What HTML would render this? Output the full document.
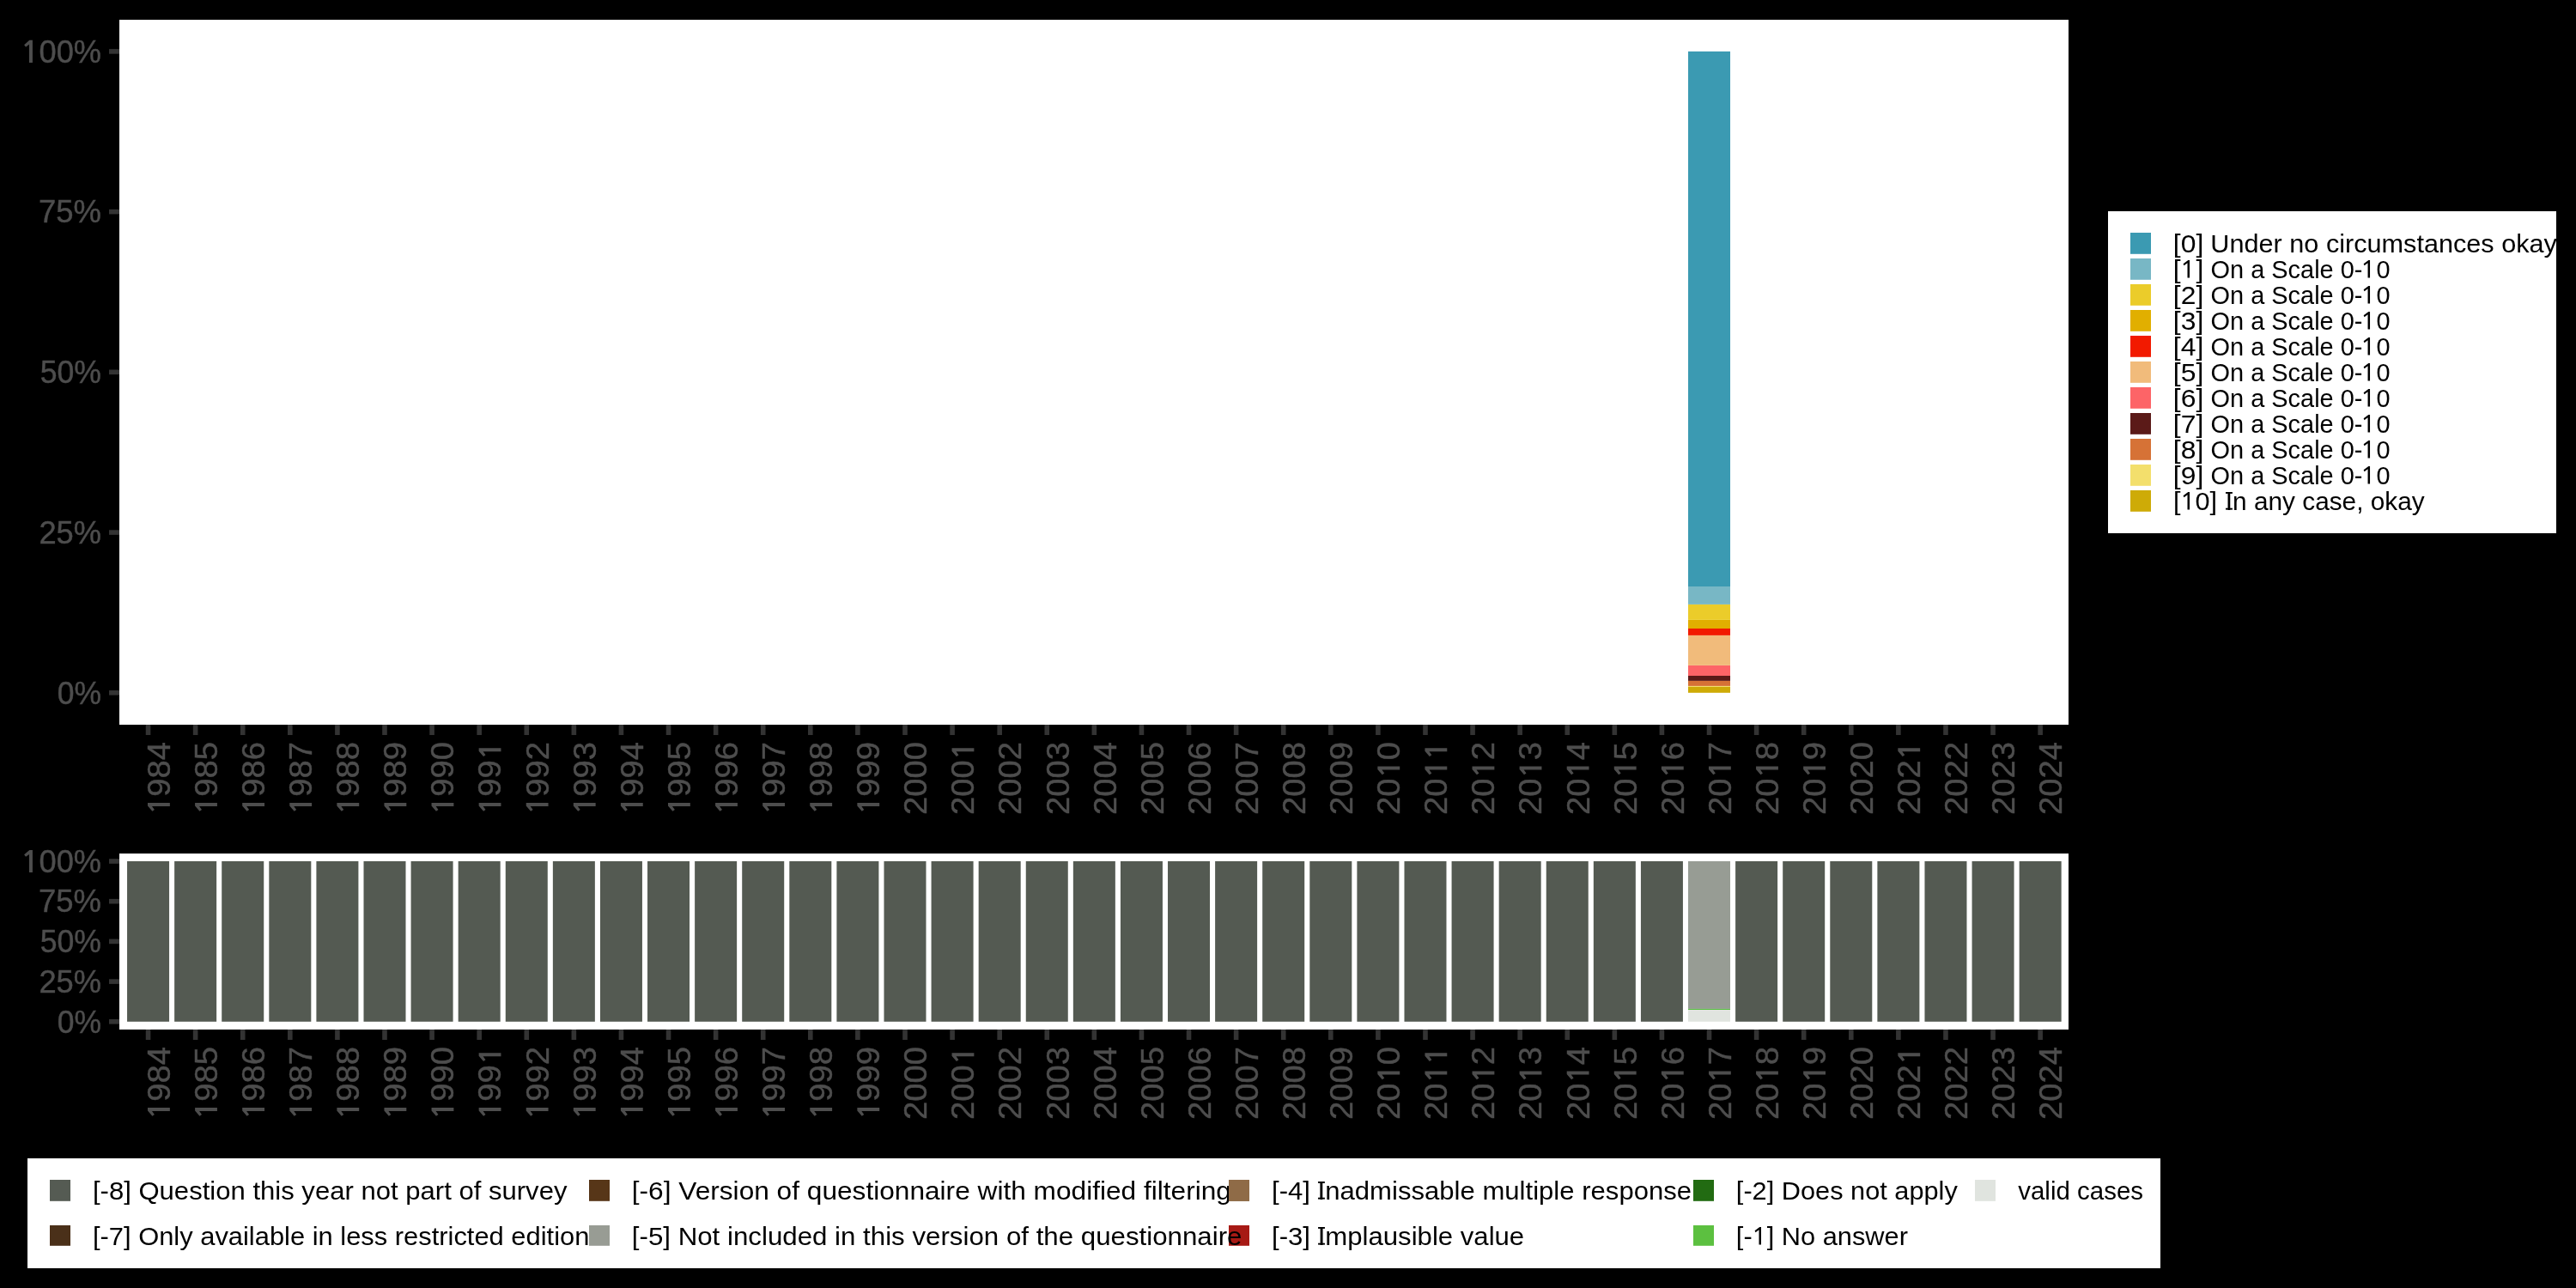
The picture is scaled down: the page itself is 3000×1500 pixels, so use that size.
<!DOCTYPE html>
<html><head><meta charset="utf-8"><style>
html,body{margin:0;padding:0;background:#000;}
svg{display:block;will-change:transform;}
text{font-family:"Liberation Sans",sans-serif;white-space:pre;}
</style></head><body>
<svg width="3000" height="1500" viewBox="0 0 3000 1500">
<rect x="0" y="0" width="3000" height="1500" fill="#000"/>
<rect x="139.00" y="23.00" width="2270.00" height="821.00" fill="#FFFFFF"/>
<rect x="1966.02" y="800.00" width="49.00" height="6.80" fill="#CEAB07"/>
<rect x="1966.02" y="798.90" width="49.00" height="1.10" fill="#F3DF6C"/>
<rect x="1966.02" y="792.90" width="49.00" height="6.00" fill="#D67236"/>
<rect x="1966.02" y="787.00" width="49.00" height="5.90" fill="#5B1A18"/>
<rect x="1966.02" y="774.90" width="49.00" height="12.10" fill="#FD6467"/>
<rect x="1966.02" y="739.90" width="49.00" height="35.00" fill="#F1BB7B"/>
<rect x="1966.02" y="732.00" width="49.00" height="7.90" fill="#F21A00"/>
<rect x="1966.02" y="721.90" width="49.00" height="10.10" fill="#E1AF00"/>
<rect x="1966.02" y="703.90" width="49.00" height="18.00" fill="#EBCC2A"/>
<rect x="1966.02" y="683.00" width="49.00" height="20.90" fill="#78B7C5"/>
<rect x="1966.02" y="59.90" width="49.00" height="623.10" fill="#3B9AB2"/>
<rect x="127.00" y="804.00" width="12.00" height="5.60" fill="#333333"/>
<rect x="127.00" y="617.27" width="12.00" height="5.60" fill="#333333"/>
<rect x="127.00" y="430.55" width="12.00" height="5.60" fill="#333333"/>
<rect x="127.00" y="243.82" width="12.00" height="5.60" fill="#333333"/>
<rect x="127.00" y="57.10" width="12.00" height="5.60" fill="#333333"/>
<text transform="translate(66.70 819.54) scale(0.9572 1)" font-size="37.1" fill="#4D4D4D" stroke="#4D4D4D" stroke-width="0.45">0%</text>
<text transform="translate(45.41 632.81) scale(0.9781 1)" font-size="37.1" fill="#4D4D4D" stroke="#4D4D4D" stroke-width="0.45">25%</text>
<text transform="translate(46.70 446.09) scale(0.9604 1)" font-size="37.1" fill="#4D4D4D" stroke="#4D4D4D" stroke-width="0.45">50%</text>
<text transform="translate(45.00 259.36) scale(0.9837 1)" font-size="37.1" fill="#4D4D4D" stroke="#4D4D4D" stroke-width="0.45">75%</text>
<text transform="translate(25.35 72.64) scale(0.9766 1)" font-size="37.1" fill="#4D4D4D" stroke="#4D4D4D" stroke-width="0.45"> 00%</text>
<path d="M33.93 72.90 L37.93 72.90 L37.93 46.80 L34.33 46.80 L28.13 52.20 L30.03 54.70 L33.93 51.80 Z" fill="#4D4D4D"/>
<rect x="169.75" y="844.00" width="5.60" height="12.00" fill="#333333"/>
<text transform="translate(197.85 948.94) rotate(-90) scale(1.0300 1)" font-size="37.1" fill="#4D4D4D" stroke="#4D4D4D" stroke-width="0.45"> 984</text>
<path d="M197.85 939.00 L197.85 935.00 L172.00 935.00 L172.00 938.60 L177.40 944.80 L179.90 942.90 L177.00 939.00 Z" fill="#4D4D4D"/>
<rect x="224.84" y="844.00" width="5.60" height="12.00" fill="#333333"/>
<text transform="translate(252.94 948.94) rotate(-90) scale(1.0300 1)" font-size="37.1" fill="#4D4D4D" stroke="#4D4D4D" stroke-width="0.45"> 985</text>
<path d="M252.94 939.00 L252.94 935.00 L227.09 935.00 L227.09 938.60 L232.49 944.80 L234.99 942.90 L232.09 939.00 Z" fill="#4D4D4D"/>
<rect x="279.93" y="844.00" width="5.60" height="12.00" fill="#333333"/>
<text transform="translate(308.03 948.94) rotate(-90) scale(1.0300 1)" font-size="37.1" fill="#4D4D4D" stroke="#4D4D4D" stroke-width="0.45"> 986</text>
<path d="M308.03 939.00 L308.03 935.00 L282.18 935.00 L282.18 938.60 L287.58 944.80 L290.08 942.90 L287.18 939.00 Z" fill="#4D4D4D"/>
<rect x="335.02" y="844.00" width="5.60" height="12.00" fill="#333333"/>
<text transform="translate(363.12 948.94) rotate(-90) scale(1.0300 1)" font-size="37.1" fill="#4D4D4D" stroke="#4D4D4D" stroke-width="0.45"> 987</text>
<path d="M363.12 939.00 L363.12 935.00 L337.27 935.00 L337.27 938.60 L342.67 944.80 L345.17 942.90 L342.27 939.00 Z" fill="#4D4D4D"/>
<rect x="390.11" y="844.00" width="5.60" height="12.00" fill="#333333"/>
<text transform="translate(418.21 948.94) rotate(-90) scale(1.0300 1)" font-size="37.1" fill="#4D4D4D" stroke="#4D4D4D" stroke-width="0.45"> 988</text>
<path d="M418.21 939.00 L418.21 935.00 L392.36 935.00 L392.36 938.60 L397.76 944.80 L400.26 942.90 L397.36 939.00 Z" fill="#4D4D4D"/>
<rect x="445.20" y="844.00" width="5.60" height="12.00" fill="#333333"/>
<text transform="translate(473.30 948.94) rotate(-90) scale(1.0300 1)" font-size="37.1" fill="#4D4D4D" stroke="#4D4D4D" stroke-width="0.45"> 989</text>
<path d="M473.30 939.00 L473.30 935.00 L447.45 935.00 L447.45 938.60 L452.85 944.80 L455.35 942.90 L452.45 939.00 Z" fill="#4D4D4D"/>
<rect x="500.29" y="844.00" width="5.60" height="12.00" fill="#333333"/>
<text transform="translate(528.39 948.94) rotate(-90) scale(1.0300 1)" font-size="37.1" fill="#4D4D4D" stroke="#4D4D4D" stroke-width="0.45"> 990</text>
<path d="M528.39 939.00 L528.39 935.00 L502.54 935.00 L502.54 938.60 L507.94 944.80 L510.44 942.90 L507.54 939.00 Z" fill="#4D4D4D"/>
<rect x="555.38" y="844.00" width="5.60" height="12.00" fill="#333333"/>
<text transform="translate(583.48 948.94) rotate(-90) scale(1.0300 1)" font-size="37.1" fill="#4D4D4D" stroke="#4D4D4D" stroke-width="0.45"> 99 </text>
<path d="M583.48 939.00 L583.48 935.00 L557.63 935.00 L557.63 938.60 L563.03 944.80 L565.53 942.90 L562.63 939.00 Z" fill="#4D4D4D"/>
<path d="M583.48 875.24 L583.48 871.24 L557.63 871.24 L557.63 874.84 L563.03 881.04 L565.53 879.14 L562.63 875.24 Z" fill="#4D4D4D"/>
<rect x="610.47" y="844.00" width="5.60" height="12.00" fill="#333333"/>
<text transform="translate(638.57 948.94) rotate(-90) scale(1.0300 1)" font-size="37.1" fill="#4D4D4D" stroke="#4D4D4D" stroke-width="0.45"> 992</text>
<path d="M638.57 939.00 L638.57 935.00 L612.72 935.00 L612.72 938.60 L618.12 944.80 L620.62 942.90 L617.72 939.00 Z" fill="#4D4D4D"/>
<rect x="665.56" y="844.00" width="5.60" height="12.00" fill="#333333"/>
<text transform="translate(693.66 948.94) rotate(-90) scale(1.0300 1)" font-size="37.1" fill="#4D4D4D" stroke="#4D4D4D" stroke-width="0.45"> 993</text>
<path d="M693.66 939.00 L693.66 935.00 L667.81 935.00 L667.81 938.60 L673.21 944.80 L675.71 942.90 L672.81 939.00 Z" fill="#4D4D4D"/>
<rect x="720.65" y="844.00" width="5.60" height="12.00" fill="#333333"/>
<text transform="translate(748.75 948.94) rotate(-90) scale(1.0300 1)" font-size="37.1" fill="#4D4D4D" stroke="#4D4D4D" stroke-width="0.45"> 994</text>
<path d="M748.75 939.00 L748.75 935.00 L722.90 935.00 L722.90 938.60 L728.30 944.80 L730.80 942.90 L727.90 939.00 Z" fill="#4D4D4D"/>
<rect x="775.74" y="844.00" width="5.60" height="12.00" fill="#333333"/>
<text transform="translate(803.84 948.94) rotate(-90) scale(1.0300 1)" font-size="37.1" fill="#4D4D4D" stroke="#4D4D4D" stroke-width="0.45"> 995</text>
<path d="M803.84 939.00 L803.84 935.00 L777.99 935.00 L777.99 938.60 L783.39 944.80 L785.89 942.90 L782.99 939.00 Z" fill="#4D4D4D"/>
<rect x="830.83" y="844.00" width="5.60" height="12.00" fill="#333333"/>
<text transform="translate(858.93 948.94) rotate(-90) scale(1.0300 1)" font-size="37.1" fill="#4D4D4D" stroke="#4D4D4D" stroke-width="0.45"> 996</text>
<path d="M858.93 939.00 L858.93 935.00 L833.08 935.00 L833.08 938.60 L838.48 944.80 L840.98 942.90 L838.08 939.00 Z" fill="#4D4D4D"/>
<rect x="885.92" y="844.00" width="5.60" height="12.00" fill="#333333"/>
<text transform="translate(914.02 948.94) rotate(-90) scale(1.0300 1)" font-size="37.1" fill="#4D4D4D" stroke="#4D4D4D" stroke-width="0.45"> 997</text>
<path d="M914.02 939.00 L914.02 935.00 L888.17 935.00 L888.17 938.60 L893.57 944.80 L896.07 942.90 L893.17 939.00 Z" fill="#4D4D4D"/>
<rect x="941.01" y="844.00" width="5.60" height="12.00" fill="#333333"/>
<text transform="translate(969.11 948.94) rotate(-90) scale(1.0300 1)" font-size="37.1" fill="#4D4D4D" stroke="#4D4D4D" stroke-width="0.45"> 998</text>
<path d="M969.11 939.00 L969.11 935.00 L943.26 935.00 L943.26 938.60 L948.66 944.80 L951.16 942.90 L948.26 939.00 Z" fill="#4D4D4D"/>
<rect x="996.10" y="844.00" width="5.60" height="12.00" fill="#333333"/>
<text transform="translate(1024.20 948.94) rotate(-90) scale(1.0300 1)" font-size="37.1" fill="#4D4D4D" stroke="#4D4D4D" stroke-width="0.45"> 999</text>
<path d="M1024.20 939.00 L1024.20 935.00 L998.35 935.00 L998.35 938.60 L1003.75 944.80 L1006.25 942.90 L1003.35 939.00 Z" fill="#4D4D4D"/>
<rect x="1051.19" y="844.00" width="5.60" height="12.00" fill="#333333"/>
<text transform="translate(1079.29 948.94) rotate(-90) scale(1.0300 1)" font-size="37.1" fill="#4D4D4D" stroke="#4D4D4D" stroke-width="0.45">2000</text>
<rect x="1106.28" y="844.00" width="5.60" height="12.00" fill="#333333"/>
<text transform="translate(1134.38 948.94) rotate(-90) scale(1.0300 1)" font-size="37.1" fill="#4D4D4D" stroke="#4D4D4D" stroke-width="0.45">200 </text>
<path d="M1134.38 875.24 L1134.38 871.24 L1108.53 871.24 L1108.53 874.84 L1113.93 881.04 L1116.43 879.14 L1113.53 875.24 Z" fill="#4D4D4D"/>
<rect x="1161.37" y="844.00" width="5.60" height="12.00" fill="#333333"/>
<text transform="translate(1189.47 948.94) rotate(-90) scale(1.0300 1)" font-size="37.1" fill="#4D4D4D" stroke="#4D4D4D" stroke-width="0.45">2002</text>
<rect x="1216.46" y="844.00" width="5.60" height="12.00" fill="#333333"/>
<text transform="translate(1244.56 948.94) rotate(-90) scale(1.0300 1)" font-size="37.1" fill="#4D4D4D" stroke="#4D4D4D" stroke-width="0.45">2003</text>
<rect x="1271.55" y="844.00" width="5.60" height="12.00" fill="#333333"/>
<text transform="translate(1299.65 948.94) rotate(-90) scale(1.0300 1)" font-size="37.1" fill="#4D4D4D" stroke="#4D4D4D" stroke-width="0.45">2004</text>
<rect x="1326.64" y="844.00" width="5.60" height="12.00" fill="#333333"/>
<text transform="translate(1354.74 948.94) rotate(-90) scale(1.0300 1)" font-size="37.1" fill="#4D4D4D" stroke="#4D4D4D" stroke-width="0.45">2005</text>
<rect x="1381.73" y="844.00" width="5.60" height="12.00" fill="#333333"/>
<text transform="translate(1409.83 948.94) rotate(-90) scale(1.0300 1)" font-size="37.1" fill="#4D4D4D" stroke="#4D4D4D" stroke-width="0.45">2006</text>
<rect x="1436.82" y="844.00" width="5.60" height="12.00" fill="#333333"/>
<text transform="translate(1464.92 948.94) rotate(-90) scale(1.0300 1)" font-size="37.1" fill="#4D4D4D" stroke="#4D4D4D" stroke-width="0.45">2007</text>
<rect x="1491.91" y="844.00" width="5.60" height="12.00" fill="#333333"/>
<text transform="translate(1520.01 948.94) rotate(-90) scale(1.0300 1)" font-size="37.1" fill="#4D4D4D" stroke="#4D4D4D" stroke-width="0.45">2008</text>
<rect x="1547.00" y="844.00" width="5.60" height="12.00" fill="#333333"/>
<text transform="translate(1575.10 948.94) rotate(-90) scale(1.0300 1)" font-size="37.1" fill="#4D4D4D" stroke="#4D4D4D" stroke-width="0.45">2009</text>
<rect x="1602.09" y="844.00" width="5.60" height="12.00" fill="#333333"/>
<text transform="translate(1630.19 948.94) rotate(-90) scale(1.0300 1)" font-size="37.1" fill="#4D4D4D" stroke="#4D4D4D" stroke-width="0.45">20 0</text>
<path d="M1630.19 896.50 L1630.19 892.50 L1604.34 892.50 L1604.34 896.10 L1609.74 902.30 L1612.24 900.40 L1609.34 896.50 Z" fill="#4D4D4D"/>
<rect x="1657.18" y="844.00" width="5.60" height="12.00" fill="#333333"/>
<text transform="translate(1685.28 948.94) rotate(-90) scale(1.0300 1)" font-size="37.1" fill="#4D4D4D" stroke="#4D4D4D" stroke-width="0.45">20  </text>
<path d="M1685.28 896.50 L1685.28 892.50 L1659.43 892.50 L1659.43 896.10 L1664.83 902.30 L1667.33 900.40 L1664.43 896.50 Z" fill="#4D4D4D"/>
<path d="M1685.28 875.24 L1685.28 871.24 L1659.43 871.24 L1659.43 874.84 L1664.83 881.04 L1667.33 879.14 L1664.43 875.24 Z" fill="#4D4D4D"/>
<rect x="1712.27" y="844.00" width="5.60" height="12.00" fill="#333333"/>
<text transform="translate(1740.37 948.94) rotate(-90) scale(1.0300 1)" font-size="37.1" fill="#4D4D4D" stroke="#4D4D4D" stroke-width="0.45">20 2</text>
<path d="M1740.37 896.50 L1740.37 892.50 L1714.52 892.50 L1714.52 896.10 L1719.92 902.30 L1722.42 900.40 L1719.52 896.50 Z" fill="#4D4D4D"/>
<rect x="1767.36" y="844.00" width="5.60" height="12.00" fill="#333333"/>
<text transform="translate(1795.46 948.94) rotate(-90) scale(1.0300 1)" font-size="37.1" fill="#4D4D4D" stroke="#4D4D4D" stroke-width="0.45">20 3</text>
<path d="M1795.46 896.50 L1795.46 892.50 L1769.61 892.50 L1769.61 896.10 L1775.01 902.30 L1777.51 900.40 L1774.61 896.50 Z" fill="#4D4D4D"/>
<rect x="1822.45" y="844.00" width="5.60" height="12.00" fill="#333333"/>
<text transform="translate(1850.55 948.94) rotate(-90) scale(1.0300 1)" font-size="37.1" fill="#4D4D4D" stroke="#4D4D4D" stroke-width="0.45">20 4</text>
<path d="M1850.55 896.50 L1850.55 892.50 L1824.70 892.50 L1824.70 896.10 L1830.10 902.30 L1832.60 900.40 L1829.70 896.50 Z" fill="#4D4D4D"/>
<rect x="1877.54" y="844.00" width="5.60" height="12.00" fill="#333333"/>
<text transform="translate(1905.64 948.94) rotate(-90) scale(1.0300 1)" font-size="37.1" fill="#4D4D4D" stroke="#4D4D4D" stroke-width="0.45">20 5</text>
<path d="M1905.64 896.50 L1905.64 892.50 L1879.79 892.50 L1879.79 896.10 L1885.19 902.30 L1887.69 900.40 L1884.79 896.50 Z" fill="#4D4D4D"/>
<rect x="1932.63" y="844.00" width="5.60" height="12.00" fill="#333333"/>
<text transform="translate(1960.73 948.94) rotate(-90) scale(1.0300 1)" font-size="37.1" fill="#4D4D4D" stroke="#4D4D4D" stroke-width="0.45">20 6</text>
<path d="M1960.73 896.50 L1960.73 892.50 L1934.88 892.50 L1934.88 896.10 L1940.28 902.30 L1942.78 900.40 L1939.88 896.50 Z" fill="#4D4D4D"/>
<rect x="1987.72" y="844.00" width="5.60" height="12.00" fill="#333333"/>
<text transform="translate(2015.82 948.94) rotate(-90) scale(1.0300 1)" font-size="37.1" fill="#4D4D4D" stroke="#4D4D4D" stroke-width="0.45">20 7</text>
<path d="M2015.82 896.50 L2015.82 892.50 L1989.97 892.50 L1989.97 896.10 L1995.37 902.30 L1997.87 900.40 L1994.97 896.50 Z" fill="#4D4D4D"/>
<rect x="2042.81" y="844.00" width="5.60" height="12.00" fill="#333333"/>
<text transform="translate(2070.91 948.94) rotate(-90) scale(1.0300 1)" font-size="37.1" fill="#4D4D4D" stroke="#4D4D4D" stroke-width="0.45">20 8</text>
<path d="M2070.91 896.50 L2070.91 892.50 L2045.06 892.50 L2045.06 896.10 L2050.46 902.30 L2052.96 900.40 L2050.06 896.50 Z" fill="#4D4D4D"/>
<rect x="2097.90" y="844.00" width="5.60" height="12.00" fill="#333333"/>
<text transform="translate(2126.00 948.94) rotate(-90) scale(1.0300 1)" font-size="37.1" fill="#4D4D4D" stroke="#4D4D4D" stroke-width="0.45">20 9</text>
<path d="M2126.00 896.50 L2126.00 892.50 L2100.15 892.50 L2100.15 896.10 L2105.55 902.30 L2108.05 900.40 L2105.15 896.50 Z" fill="#4D4D4D"/>
<rect x="2152.99" y="844.00" width="5.60" height="12.00" fill="#333333"/>
<text transform="translate(2181.09 948.94) rotate(-90) scale(1.0300 1)" font-size="37.1" fill="#4D4D4D" stroke="#4D4D4D" stroke-width="0.45">2020</text>
<rect x="2208.08" y="844.00" width="5.60" height="12.00" fill="#333333"/>
<text transform="translate(2236.18 948.94) rotate(-90) scale(1.0300 1)" font-size="37.1" fill="#4D4D4D" stroke="#4D4D4D" stroke-width="0.45">202 </text>
<path d="M2236.18 875.24 L2236.18 871.24 L2210.33 871.24 L2210.33 874.84 L2215.73 881.04 L2218.23 879.14 L2215.33 875.24 Z" fill="#4D4D4D"/>
<rect x="2263.17" y="844.00" width="5.60" height="12.00" fill="#333333"/>
<text transform="translate(2291.27 948.94) rotate(-90) scale(1.0300 1)" font-size="37.1" fill="#4D4D4D" stroke="#4D4D4D" stroke-width="0.45">2022</text>
<rect x="2318.26" y="844.00" width="5.60" height="12.00" fill="#333333"/>
<text transform="translate(2346.36 948.94) rotate(-90) scale(1.0300 1)" font-size="37.1" fill="#4D4D4D" stroke="#4D4D4D" stroke-width="0.45">2023</text>
<rect x="2373.35" y="844.00" width="5.60" height="12.00" fill="#333333"/>
<text transform="translate(2401.45 948.94) rotate(-90) scale(1.0300 1)" font-size="37.1" fill="#4D4D4D" stroke="#4D4D4D" stroke-width="0.45">2024</text>
<rect x="139.00" y="994.00" width="2270.00" height="205.00" fill="#FFFFFF"/>
<rect x="148.05" y="1003.00" width="49.00" height="186.80" fill="#545A52"/>
<rect x="203.14" y="1003.00" width="49.00" height="186.80" fill="#545A52"/>
<rect x="258.23" y="1003.00" width="49.00" height="186.80" fill="#545A52"/>
<rect x="313.32" y="1003.00" width="49.00" height="186.80" fill="#545A52"/>
<rect x="368.41" y="1003.00" width="49.00" height="186.80" fill="#545A52"/>
<rect x="423.50" y="1003.00" width="49.00" height="186.80" fill="#545A52"/>
<rect x="478.59" y="1003.00" width="49.00" height="186.80" fill="#545A52"/>
<rect x="533.68" y="1003.00" width="49.00" height="186.80" fill="#545A52"/>
<rect x="588.77" y="1003.00" width="49.00" height="186.80" fill="#545A52"/>
<rect x="643.86" y="1003.00" width="49.00" height="186.80" fill="#545A52"/>
<rect x="698.95" y="1003.00" width="49.00" height="186.80" fill="#545A52"/>
<rect x="754.04" y="1003.00" width="49.00" height="186.80" fill="#545A52"/>
<rect x="809.13" y="1003.00" width="49.00" height="186.80" fill="#545A52"/>
<rect x="864.22" y="1003.00" width="49.00" height="186.80" fill="#545A52"/>
<rect x="919.31" y="1003.00" width="49.00" height="186.80" fill="#545A52"/>
<rect x="974.40" y="1003.00" width="49.00" height="186.80" fill="#545A52"/>
<rect x="1029.49" y="1003.00" width="49.00" height="186.80" fill="#545A52"/>
<rect x="1084.58" y="1003.00" width="49.00" height="186.80" fill="#545A52"/>
<rect x="1139.67" y="1003.00" width="49.00" height="186.80" fill="#545A52"/>
<rect x="1194.76" y="1003.00" width="49.00" height="186.80" fill="#545A52"/>
<rect x="1249.85" y="1003.00" width="49.00" height="186.80" fill="#545A52"/>
<rect x="1304.94" y="1003.00" width="49.00" height="186.80" fill="#545A52"/>
<rect x="1360.03" y="1003.00" width="49.00" height="186.80" fill="#545A52"/>
<rect x="1415.12" y="1003.00" width="49.00" height="186.80" fill="#545A52"/>
<rect x="1470.21" y="1003.00" width="49.00" height="186.80" fill="#545A52"/>
<rect x="1525.30" y="1003.00" width="49.00" height="186.80" fill="#545A52"/>
<rect x="1580.39" y="1003.00" width="49.00" height="186.80" fill="#545A52"/>
<rect x="1635.48" y="1003.00" width="49.00" height="186.80" fill="#545A52"/>
<rect x="1690.57" y="1003.00" width="49.00" height="186.80" fill="#545A52"/>
<rect x="1745.66" y="1003.00" width="49.00" height="186.80" fill="#545A52"/>
<rect x="1800.75" y="1003.00" width="49.00" height="186.80" fill="#545A52"/>
<rect x="1855.84" y="1003.00" width="49.00" height="186.80" fill="#545A52"/>
<rect x="1910.93" y="1003.00" width="49.00" height="186.80" fill="#545A52"/>
<rect x="1966.02" y="1003.00" width="49.00" height="171.90" fill="#979C94"/>
<rect x="1966.02" y="1174.90" width="49.00" height="1.20" fill="#55BD3E"/>
<rect x="1966.02" y="1176.10" width="49.00" height="13.70" fill="#E0E4DF"/>
<rect x="2021.11" y="1003.00" width="49.00" height="186.80" fill="#545A52"/>
<rect x="2076.20" y="1003.00" width="49.00" height="186.80" fill="#545A52"/>
<rect x="2131.29" y="1003.00" width="49.00" height="186.80" fill="#545A52"/>
<rect x="2186.38" y="1003.00" width="49.00" height="186.80" fill="#545A52"/>
<rect x="2241.47" y="1003.00" width="49.00" height="186.80" fill="#545A52"/>
<rect x="2296.56" y="1003.00" width="49.00" height="186.80" fill="#545A52"/>
<rect x="2351.65" y="1003.00" width="49.00" height="186.80" fill="#545A52"/>
<rect x="127.00" y="1187.00" width="12.00" height="5.60" fill="#333333"/>
<text transform="translate(66.70 1202.54) scale(0.9572 1)" font-size="37.1" fill="#4D4D4D" stroke="#4D4D4D" stroke-width="0.45">0%</text>
<rect x="127.00" y="1140.30" width="12.00" height="5.60" fill="#333333"/>
<text transform="translate(45.41 1155.84) scale(0.9781 1)" font-size="37.1" fill="#4D4D4D" stroke="#4D4D4D" stroke-width="0.45">25%</text>
<rect x="127.00" y="1093.60" width="12.00" height="5.60" fill="#333333"/>
<text transform="translate(46.70 1109.14) scale(0.9604 1)" font-size="37.1" fill="#4D4D4D" stroke="#4D4D4D" stroke-width="0.45">50%</text>
<rect x="127.00" y="1046.90" width="12.00" height="5.60" fill="#333333"/>
<text transform="translate(45.00 1062.44) scale(0.9837 1)" font-size="37.1" fill="#4D4D4D" stroke="#4D4D4D" stroke-width="0.45">75%</text>
<rect x="127.00" y="1000.20" width="12.00" height="5.60" fill="#333333"/>
<text transform="translate(25.35 1015.74) scale(0.9766 1)" font-size="37.1" fill="#4D4D4D" stroke="#4D4D4D" stroke-width="0.45"> 00%</text>
<path d="M33.93 1016.00 L37.93 1016.00 L37.93 989.90 L34.33 989.90 L28.13 995.30 L30.03 997.80 L33.93 994.90 Z" fill="#4D4D4D"/>
<rect x="169.75" y="1199.00" width="5.60" height="12.00" fill="#333333"/>
<text transform="translate(197.85 1303.94) rotate(-90) scale(1.0300 1)" font-size="37.1" fill="#4D4D4D" stroke="#4D4D4D" stroke-width="0.45"> 984</text>
<path d="M197.85 1294.00 L197.85 1290.00 L172.00 1290.00 L172.00 1293.60 L177.40 1299.80 L179.90 1297.90 L177.00 1294.00 Z" fill="#4D4D4D"/>
<rect x="224.84" y="1199.00" width="5.60" height="12.00" fill="#333333"/>
<text transform="translate(252.94 1303.94) rotate(-90) scale(1.0300 1)" font-size="37.1" fill="#4D4D4D" stroke="#4D4D4D" stroke-width="0.45"> 985</text>
<path d="M252.94 1294.00 L252.94 1290.00 L227.09 1290.00 L227.09 1293.60 L232.49 1299.80 L234.99 1297.90 L232.09 1294.00 Z" fill="#4D4D4D"/>
<rect x="279.93" y="1199.00" width="5.60" height="12.00" fill="#333333"/>
<text transform="translate(308.03 1303.94) rotate(-90) scale(1.0300 1)" font-size="37.1" fill="#4D4D4D" stroke="#4D4D4D" stroke-width="0.45"> 986</text>
<path d="M308.03 1294.00 L308.03 1290.00 L282.18 1290.00 L282.18 1293.60 L287.58 1299.80 L290.08 1297.90 L287.18 1294.00 Z" fill="#4D4D4D"/>
<rect x="335.02" y="1199.00" width="5.60" height="12.00" fill="#333333"/>
<text transform="translate(363.12 1303.94) rotate(-90) scale(1.0300 1)" font-size="37.1" fill="#4D4D4D" stroke="#4D4D4D" stroke-width="0.45"> 987</text>
<path d="M363.12 1294.00 L363.12 1290.00 L337.27 1290.00 L337.27 1293.60 L342.67 1299.80 L345.17 1297.90 L342.27 1294.00 Z" fill="#4D4D4D"/>
<rect x="390.11" y="1199.00" width="5.60" height="12.00" fill="#333333"/>
<text transform="translate(418.21 1303.94) rotate(-90) scale(1.0300 1)" font-size="37.1" fill="#4D4D4D" stroke="#4D4D4D" stroke-width="0.45"> 988</text>
<path d="M418.21 1294.00 L418.21 1290.00 L392.36 1290.00 L392.36 1293.60 L397.76 1299.80 L400.26 1297.90 L397.36 1294.00 Z" fill="#4D4D4D"/>
<rect x="445.20" y="1199.00" width="5.60" height="12.00" fill="#333333"/>
<text transform="translate(473.30 1303.94) rotate(-90) scale(1.0300 1)" font-size="37.1" fill="#4D4D4D" stroke="#4D4D4D" stroke-width="0.45"> 989</text>
<path d="M473.30 1294.00 L473.30 1290.00 L447.45 1290.00 L447.45 1293.60 L452.85 1299.80 L455.35 1297.90 L452.45 1294.00 Z" fill="#4D4D4D"/>
<rect x="500.29" y="1199.00" width="5.60" height="12.00" fill="#333333"/>
<text transform="translate(528.39 1303.94) rotate(-90) scale(1.0300 1)" font-size="37.1" fill="#4D4D4D" stroke="#4D4D4D" stroke-width="0.45"> 990</text>
<path d="M528.39 1294.00 L528.39 1290.00 L502.54 1290.00 L502.54 1293.60 L507.94 1299.80 L510.44 1297.90 L507.54 1294.00 Z" fill="#4D4D4D"/>
<rect x="555.38" y="1199.00" width="5.60" height="12.00" fill="#333333"/>
<text transform="translate(583.48 1303.94) rotate(-90) scale(1.0300 1)" font-size="37.1" fill="#4D4D4D" stroke="#4D4D4D" stroke-width="0.45"> 99 </text>
<path d="M583.48 1294.00 L583.48 1290.00 L557.63 1290.00 L557.63 1293.60 L563.03 1299.80 L565.53 1297.90 L562.63 1294.00 Z" fill="#4D4D4D"/>
<path d="M583.48 1230.24 L583.48 1226.24 L557.63 1226.24 L557.63 1229.84 L563.03 1236.04 L565.53 1234.14 L562.63 1230.24 Z" fill="#4D4D4D"/>
<rect x="610.47" y="1199.00" width="5.60" height="12.00" fill="#333333"/>
<text transform="translate(638.57 1303.94) rotate(-90) scale(1.0300 1)" font-size="37.1" fill="#4D4D4D" stroke="#4D4D4D" stroke-width="0.45"> 992</text>
<path d="M638.57 1294.00 L638.57 1290.00 L612.72 1290.00 L612.72 1293.60 L618.12 1299.80 L620.62 1297.90 L617.72 1294.00 Z" fill="#4D4D4D"/>
<rect x="665.56" y="1199.00" width="5.60" height="12.00" fill="#333333"/>
<text transform="translate(693.66 1303.94) rotate(-90) scale(1.0300 1)" font-size="37.1" fill="#4D4D4D" stroke="#4D4D4D" stroke-width="0.45"> 993</text>
<path d="M693.66 1294.00 L693.66 1290.00 L667.81 1290.00 L667.81 1293.60 L673.21 1299.80 L675.71 1297.90 L672.81 1294.00 Z" fill="#4D4D4D"/>
<rect x="720.65" y="1199.00" width="5.60" height="12.00" fill="#333333"/>
<text transform="translate(748.75 1303.94) rotate(-90) scale(1.0300 1)" font-size="37.1" fill="#4D4D4D" stroke="#4D4D4D" stroke-width="0.45"> 994</text>
<path d="M748.75 1294.00 L748.75 1290.00 L722.90 1290.00 L722.90 1293.60 L728.30 1299.80 L730.80 1297.90 L727.90 1294.00 Z" fill="#4D4D4D"/>
<rect x="775.74" y="1199.00" width="5.60" height="12.00" fill="#333333"/>
<text transform="translate(803.84 1303.94) rotate(-90) scale(1.0300 1)" font-size="37.1" fill="#4D4D4D" stroke="#4D4D4D" stroke-width="0.45"> 995</text>
<path d="M803.84 1294.00 L803.84 1290.00 L777.99 1290.00 L777.99 1293.60 L783.39 1299.80 L785.89 1297.90 L782.99 1294.00 Z" fill="#4D4D4D"/>
<rect x="830.83" y="1199.00" width="5.60" height="12.00" fill="#333333"/>
<text transform="translate(858.93 1303.94) rotate(-90) scale(1.0300 1)" font-size="37.1" fill="#4D4D4D" stroke="#4D4D4D" stroke-width="0.45"> 996</text>
<path d="M858.93 1294.00 L858.93 1290.00 L833.08 1290.00 L833.08 1293.60 L838.48 1299.80 L840.98 1297.90 L838.08 1294.00 Z" fill="#4D4D4D"/>
<rect x="885.92" y="1199.00" width="5.60" height="12.00" fill="#333333"/>
<text transform="translate(914.02 1303.94) rotate(-90) scale(1.0300 1)" font-size="37.1" fill="#4D4D4D" stroke="#4D4D4D" stroke-width="0.45"> 997</text>
<path d="M914.02 1294.00 L914.02 1290.00 L888.17 1290.00 L888.17 1293.60 L893.57 1299.80 L896.07 1297.90 L893.17 1294.00 Z" fill="#4D4D4D"/>
<rect x="941.01" y="1199.00" width="5.60" height="12.00" fill="#333333"/>
<text transform="translate(969.11 1303.94) rotate(-90) scale(1.0300 1)" font-size="37.1" fill="#4D4D4D" stroke="#4D4D4D" stroke-width="0.45"> 998</text>
<path d="M969.11 1294.00 L969.11 1290.00 L943.26 1290.00 L943.26 1293.60 L948.66 1299.80 L951.16 1297.90 L948.26 1294.00 Z" fill="#4D4D4D"/>
<rect x="996.10" y="1199.00" width="5.60" height="12.00" fill="#333333"/>
<text transform="translate(1024.20 1303.94) rotate(-90) scale(1.0300 1)" font-size="37.1" fill="#4D4D4D" stroke="#4D4D4D" stroke-width="0.45"> 999</text>
<path d="M1024.20 1294.00 L1024.20 1290.00 L998.35 1290.00 L998.35 1293.60 L1003.75 1299.80 L1006.25 1297.90 L1003.35 1294.00 Z" fill="#4D4D4D"/>
<rect x="1051.19" y="1199.00" width="5.60" height="12.00" fill="#333333"/>
<text transform="translate(1079.29 1303.94) rotate(-90) scale(1.0300 1)" font-size="37.1" fill="#4D4D4D" stroke="#4D4D4D" stroke-width="0.45">2000</text>
<rect x="1106.28" y="1199.00" width="5.60" height="12.00" fill="#333333"/>
<text transform="translate(1134.38 1303.94) rotate(-90) scale(1.0300 1)" font-size="37.1" fill="#4D4D4D" stroke="#4D4D4D" stroke-width="0.45">200 </text>
<path d="M1134.38 1230.24 L1134.38 1226.24 L1108.53 1226.24 L1108.53 1229.84 L1113.93 1236.04 L1116.43 1234.14 L1113.53 1230.24 Z" fill="#4D4D4D"/>
<rect x="1161.37" y="1199.00" width="5.60" height="12.00" fill="#333333"/>
<text transform="translate(1189.47 1303.94) rotate(-90) scale(1.0300 1)" font-size="37.1" fill="#4D4D4D" stroke="#4D4D4D" stroke-width="0.45">2002</text>
<rect x="1216.46" y="1199.00" width="5.60" height="12.00" fill="#333333"/>
<text transform="translate(1244.56 1303.94) rotate(-90) scale(1.0300 1)" font-size="37.1" fill="#4D4D4D" stroke="#4D4D4D" stroke-width="0.45">2003</text>
<rect x="1271.55" y="1199.00" width="5.60" height="12.00" fill="#333333"/>
<text transform="translate(1299.65 1303.94) rotate(-90) scale(1.0300 1)" font-size="37.1" fill="#4D4D4D" stroke="#4D4D4D" stroke-width="0.45">2004</text>
<rect x="1326.64" y="1199.00" width="5.60" height="12.00" fill="#333333"/>
<text transform="translate(1354.74 1303.94) rotate(-90) scale(1.0300 1)" font-size="37.1" fill="#4D4D4D" stroke="#4D4D4D" stroke-width="0.45">2005</text>
<rect x="1381.73" y="1199.00" width="5.60" height="12.00" fill="#333333"/>
<text transform="translate(1409.83 1303.94) rotate(-90) scale(1.0300 1)" font-size="37.1" fill="#4D4D4D" stroke="#4D4D4D" stroke-width="0.45">2006</text>
<rect x="1436.82" y="1199.00" width="5.60" height="12.00" fill="#333333"/>
<text transform="translate(1464.92 1303.94) rotate(-90) scale(1.0300 1)" font-size="37.1" fill="#4D4D4D" stroke="#4D4D4D" stroke-width="0.45">2007</text>
<rect x="1491.91" y="1199.00" width="5.60" height="12.00" fill="#333333"/>
<text transform="translate(1520.01 1303.94) rotate(-90) scale(1.0300 1)" font-size="37.1" fill="#4D4D4D" stroke="#4D4D4D" stroke-width="0.45">2008</text>
<rect x="1547.00" y="1199.00" width="5.60" height="12.00" fill="#333333"/>
<text transform="translate(1575.10 1303.94) rotate(-90) scale(1.0300 1)" font-size="37.1" fill="#4D4D4D" stroke="#4D4D4D" stroke-width="0.45">2009</text>
<rect x="1602.09" y="1199.00" width="5.60" height="12.00" fill="#333333"/>
<text transform="translate(1630.19 1303.94) rotate(-90) scale(1.0300 1)" font-size="37.1" fill="#4D4D4D" stroke="#4D4D4D" stroke-width="0.45">20 0</text>
<path d="M1630.19 1251.50 L1630.19 1247.50 L1604.34 1247.50 L1604.34 1251.10 L1609.74 1257.30 L1612.24 1255.40 L1609.34 1251.50 Z" fill="#4D4D4D"/>
<rect x="1657.18" y="1199.00" width="5.60" height="12.00" fill="#333333"/>
<text transform="translate(1685.28 1303.94) rotate(-90) scale(1.0300 1)" font-size="37.1" fill="#4D4D4D" stroke="#4D4D4D" stroke-width="0.45">20  </text>
<path d="M1685.28 1251.50 L1685.28 1247.50 L1659.43 1247.50 L1659.43 1251.10 L1664.83 1257.30 L1667.33 1255.40 L1664.43 1251.50 Z" fill="#4D4D4D"/>
<path d="M1685.28 1230.24 L1685.28 1226.24 L1659.43 1226.24 L1659.43 1229.84 L1664.83 1236.04 L1667.33 1234.14 L1664.43 1230.24 Z" fill="#4D4D4D"/>
<rect x="1712.27" y="1199.00" width="5.60" height="12.00" fill="#333333"/>
<text transform="translate(1740.37 1303.94) rotate(-90) scale(1.0300 1)" font-size="37.1" fill="#4D4D4D" stroke="#4D4D4D" stroke-width="0.45">20 2</text>
<path d="M1740.37 1251.50 L1740.37 1247.50 L1714.52 1247.50 L1714.52 1251.10 L1719.92 1257.30 L1722.42 1255.40 L1719.52 1251.50 Z" fill="#4D4D4D"/>
<rect x="1767.36" y="1199.00" width="5.60" height="12.00" fill="#333333"/>
<text transform="translate(1795.46 1303.94) rotate(-90) scale(1.0300 1)" font-size="37.1" fill="#4D4D4D" stroke="#4D4D4D" stroke-width="0.45">20 3</text>
<path d="M1795.46 1251.50 L1795.46 1247.50 L1769.61 1247.50 L1769.61 1251.10 L1775.01 1257.30 L1777.51 1255.40 L1774.61 1251.50 Z" fill="#4D4D4D"/>
<rect x="1822.45" y="1199.00" width="5.60" height="12.00" fill="#333333"/>
<text transform="translate(1850.55 1303.94) rotate(-90) scale(1.0300 1)" font-size="37.1" fill="#4D4D4D" stroke="#4D4D4D" stroke-width="0.45">20 4</text>
<path d="M1850.55 1251.50 L1850.55 1247.50 L1824.70 1247.50 L1824.70 1251.10 L1830.10 1257.30 L1832.60 1255.40 L1829.70 1251.50 Z" fill="#4D4D4D"/>
<rect x="1877.54" y="1199.00" width="5.60" height="12.00" fill="#333333"/>
<text transform="translate(1905.64 1303.94) rotate(-90) scale(1.0300 1)" font-size="37.1" fill="#4D4D4D" stroke="#4D4D4D" stroke-width="0.45">20 5</text>
<path d="M1905.64 1251.50 L1905.64 1247.50 L1879.79 1247.50 L1879.79 1251.10 L1885.19 1257.30 L1887.69 1255.40 L1884.79 1251.50 Z" fill="#4D4D4D"/>
<rect x="1932.63" y="1199.00" width="5.60" height="12.00" fill="#333333"/>
<text transform="translate(1960.73 1303.94) rotate(-90) scale(1.0300 1)" font-size="37.1" fill="#4D4D4D" stroke="#4D4D4D" stroke-width="0.45">20 6</text>
<path d="M1960.73 1251.50 L1960.73 1247.50 L1934.88 1247.50 L1934.88 1251.10 L1940.28 1257.30 L1942.78 1255.40 L1939.88 1251.50 Z" fill="#4D4D4D"/>
<rect x="1987.72" y="1199.00" width="5.60" height="12.00" fill="#333333"/>
<text transform="translate(2015.82 1303.94) rotate(-90) scale(1.0300 1)" font-size="37.1" fill="#4D4D4D" stroke="#4D4D4D" stroke-width="0.45">20 7</text>
<path d="M2015.82 1251.50 L2015.82 1247.50 L1989.97 1247.50 L1989.97 1251.10 L1995.37 1257.30 L1997.87 1255.40 L1994.97 1251.50 Z" fill="#4D4D4D"/>
<rect x="2042.81" y="1199.00" width="5.60" height="12.00" fill="#333333"/>
<text transform="translate(2070.91 1303.94) rotate(-90) scale(1.0300 1)" font-size="37.1" fill="#4D4D4D" stroke="#4D4D4D" stroke-width="0.45">20 8</text>
<path d="M2070.91 1251.50 L2070.91 1247.50 L2045.06 1247.50 L2045.06 1251.10 L2050.46 1257.30 L2052.96 1255.40 L2050.06 1251.50 Z" fill="#4D4D4D"/>
<rect x="2097.90" y="1199.00" width="5.60" height="12.00" fill="#333333"/>
<text transform="translate(2126.00 1303.94) rotate(-90) scale(1.0300 1)" font-size="37.1" fill="#4D4D4D" stroke="#4D4D4D" stroke-width="0.45">20 9</text>
<path d="M2126.00 1251.50 L2126.00 1247.50 L2100.15 1247.50 L2100.15 1251.10 L2105.55 1257.30 L2108.05 1255.40 L2105.15 1251.50 Z" fill="#4D4D4D"/>
<rect x="2152.99" y="1199.00" width="5.60" height="12.00" fill="#333333"/>
<text transform="translate(2181.09 1303.94) rotate(-90) scale(1.0300 1)" font-size="37.1" fill="#4D4D4D" stroke="#4D4D4D" stroke-width="0.45">2020</text>
<rect x="2208.08" y="1199.00" width="5.60" height="12.00" fill="#333333"/>
<text transform="translate(2236.18 1303.94) rotate(-90) scale(1.0300 1)" font-size="37.1" fill="#4D4D4D" stroke="#4D4D4D" stroke-width="0.45">202 </text>
<path d="M2236.18 1230.24 L2236.18 1226.24 L2210.33 1226.24 L2210.33 1229.84 L2215.73 1236.04 L2218.23 1234.14 L2215.33 1230.24 Z" fill="#4D4D4D"/>
<rect x="2263.17" y="1199.00" width="5.60" height="12.00" fill="#333333"/>
<text transform="translate(2291.27 1303.94) rotate(-90) scale(1.0300 1)" font-size="37.1" fill="#4D4D4D" stroke="#4D4D4D" stroke-width="0.45">2022</text>
<rect x="2318.26" y="1199.00" width="5.60" height="12.00" fill="#333333"/>
<text transform="translate(2346.36 1303.94) rotate(-90) scale(1.0300 1)" font-size="37.1" fill="#4D4D4D" stroke="#4D4D4D" stroke-width="0.45">2023</text>
<rect x="2373.35" y="1199.00" width="5.60" height="12.00" fill="#333333"/>
<text transform="translate(2401.45 1303.94) rotate(-90) scale(1.0300 1)" font-size="37.1" fill="#4D4D4D" stroke="#4D4D4D" stroke-width="0.45">2024</text>
<rect x="2455.00" y="246.00" width="522.00" height="375.00" fill="#FFFFFF"/>
<rect x="2481.00" y="271.00" width="24.00" height="24.80" fill="#3B9AB2"/>
<rect x="2481.00" y="301.00" width="24.00" height="24.80" fill="#78B7C5"/>
<rect x="2481.00" y="331.00" width="24.00" height="24.80" fill="#EBCC2A"/>
<rect x="2481.00" y="361.00" width="24.00" height="24.80" fill="#E1AF00"/>
<rect x="2481.00" y="391.00" width="24.00" height="24.80" fill="#F21A00"/>
<rect x="2481.00" y="421.00" width="24.00" height="24.80" fill="#F1BB7B"/>
<rect x="2481.00" y="451.00" width="24.00" height="24.80" fill="#FD6467"/>
<rect x="2481.00" y="481.00" width="24.00" height="24.80" fill="#5B1A18"/>
<rect x="2481.00" y="511.00" width="24.00" height="24.80" fill="#D67236"/>
<rect x="2481.00" y="541.00" width="24.00" height="24.80" fill="#F3DF6C"/>
<rect x="2481.00" y="571.00" width="24.00" height="24.80" fill="#CEAB07"/>
<clipPath id="lgclip"><rect x="2455" y="246" width="522" height="375"/></clipPath><g clip-path="url(#lgclip)">
<text transform="translate(2530.87 293.60) scale(1.0619 1)" font-size="30" fill="#000">[0]</text>
<text transform="translate(2574.35 293.60) scale(1.0216 1)" font-size="30" fill="#000">Under no circumstances okay</text>
<text transform="translate(2530.87 323.60) scale(1.0619 1)" font-size="30" fill="#000">[ ]</text>
<path d="M2547.50 323.60 L2550.00 323.60 L2550.00 303.10 L2548.30 303.10 L2542.60 307.30 L2543.50 309.20 L2547.50 306.30 Z" fill="#000"/>
<text transform="translate(2574.50 323.60) scale(0.9648 1)" font-size="30" fill="#000">On a Scale 0- 0</text>
<path d="M2757.55 323.60 L2760.05 323.60 L2760.05 303.10 L2758.35 303.10 L2752.65 307.30 L2753.55 309.20 L2757.55 306.30 Z" fill="#000"/>
<text transform="translate(2530.87 353.60) scale(1.0619 1)" font-size="30" fill="#000">[2]</text>
<text transform="translate(2574.50 353.60) scale(0.9648 1)" font-size="30" fill="#000">On a Scale 0- 0</text>
<path d="M2757.55 353.60 L2760.05 353.60 L2760.05 333.10 L2758.35 333.10 L2752.65 337.30 L2753.55 339.20 L2757.55 336.30 Z" fill="#000"/>
<text transform="translate(2530.87 383.60) scale(1.0619 1)" font-size="30" fill="#000">[3]</text>
<text transform="translate(2574.50 383.60) scale(0.9648 1)" font-size="30" fill="#000">On a Scale 0- 0</text>
<path d="M2757.55 383.60 L2760.05 383.60 L2760.05 363.10 L2758.35 363.10 L2752.65 367.30 L2753.55 369.20 L2757.55 366.30 Z" fill="#000"/>
<text transform="translate(2530.87 413.60) scale(1.0619 1)" font-size="30" fill="#000">[4]</text>
<text transform="translate(2574.50 413.60) scale(0.9648 1)" font-size="30" fill="#000">On a Scale 0- 0</text>
<path d="M2757.55 413.60 L2760.05 413.60 L2760.05 393.10 L2758.35 393.10 L2752.65 397.30 L2753.55 399.20 L2757.55 396.30 Z" fill="#000"/>
<text transform="translate(2530.87 443.60) scale(1.0619 1)" font-size="30" fill="#000">[5]</text>
<text transform="translate(2574.50 443.60) scale(0.9648 1)" font-size="30" fill="#000">On a Scale 0- 0</text>
<path d="M2757.55 443.60 L2760.05 443.60 L2760.05 423.10 L2758.35 423.10 L2752.65 427.30 L2753.55 429.20 L2757.55 426.30 Z" fill="#000"/>
<text transform="translate(2530.87 473.60) scale(1.0619 1)" font-size="30" fill="#000">[6]</text>
<text transform="translate(2574.50 473.60) scale(0.9648 1)" font-size="30" fill="#000">On a Scale 0- 0</text>
<path d="M2757.55 473.60 L2760.05 473.60 L2760.05 453.10 L2758.35 453.10 L2752.65 457.30 L2753.55 459.20 L2757.55 456.30 Z" fill="#000"/>
<text transform="translate(2530.87 503.60) scale(1.0619 1)" font-size="30" fill="#000">[7]</text>
<text transform="translate(2574.50 503.60) scale(0.9648 1)" font-size="30" fill="#000">On a Scale 0- 0</text>
<path d="M2757.55 503.60 L2760.05 503.60 L2760.05 483.10 L2758.35 483.10 L2752.65 487.30 L2753.55 489.20 L2757.55 486.30 Z" fill="#000"/>
<text transform="translate(2530.87 533.60) scale(1.0619 1)" font-size="30" fill="#000">[8]</text>
<text transform="translate(2574.50 533.60) scale(0.9648 1)" font-size="30" fill="#000">On a Scale 0- 0</text>
<path d="M2757.55 533.60 L2760.05 533.60 L2760.05 513.10 L2758.35 513.10 L2752.65 517.30 L2753.55 519.20 L2757.55 516.30 Z" fill="#000"/>
<text transform="translate(2530.87 563.60) scale(1.0619 1)" font-size="30" fill="#000">[9]</text>
<text transform="translate(2574.50 563.60) scale(0.9648 1)" font-size="30" fill="#000">On a Scale 0- 0</text>
<path d="M2757.55 563.60 L2760.05 563.60 L2760.05 543.10 L2758.35 543.10 L2752.65 547.30 L2753.55 549.20 L2757.55 546.30 Z" fill="#000"/>
<text transform="translate(2530.95 593.60) scale(1.0229 1)" font-size="30" fill="#000">[ 0]</text>
<path d="M2547.50 593.60 L2550.00 593.60 L2550.00 573.10 L2548.30 573.10 L2542.60 577.30 L2543.50 579.20 L2547.50 576.30 Z" fill="#000"/>
<text transform="translate(2591.82 593.60) scale(0.9935 1)" font-size="30" fill="#000">In any case, okay</text>
<rect x="2592.01" y="573.00" width="7.90" height="1.90" fill="#000"/>
<rect x="2592.01" y="591.70" width="7.90" height="1.90" fill="#000"/>
</g>
<rect x="32.00" y="1349.00" width="2484.00" height="128.00" fill="#FFFFFF"/>
<rect x="58.00" y="1374.00" width="24.00" height="24.80" fill="#555B53"/>
<rect x="58.00" y="1427.00" width="24.00" height="23.80" fill="#4A3019"/>
<rect x="686.00" y="1374.00" width="24.00" height="24.80" fill="#573618"/>
<rect x="686.00" y="1427.00" width="24.00" height="23.80" fill="#989C94"/>
<rect x="1431.00" y="1374.00" width="24.00" height="24.80" fill="#8F6B47"/>
<rect x="1431.00" y="1427.00" width="24.00" height="23.80" fill="#A71A15"/>
<rect x="1972.00" y="1374.00" width="24.00" height="24.80" fill="#226B12"/>
<rect x="1972.00" y="1427.00" width="24.00" height="23.80" fill="#5CC040"/>
<rect x="2300.00" y="1374.00" width="24.00" height="24.80" fill="#E0E4DF"/>
<text transform="translate(107.92 1396.60) scale(1.0359 1)" font-size="30" fill="#000">[-8] Question this year not part of survey</text>
<text transform="translate(107.94 1449.60) scale(1.0298 1)" font-size="30" fill="#000">[-7] Only available in less restricted edition</text>
<text transform="translate(735.79 1396.60) scale(1.0547 1)" font-size="30" fill="#000">[-6] Version of questionnaire with modified filtering</text>
<text transform="translate(735.81 1449.60) scale(1.0426 1)" font-size="30" fill="#000">[-5] Not included in this version of the questionnaire</text>
<text transform="translate(1481.02 1396.60) scale(1.0367 1)" font-size="30" fill="#000">[-4] Inadmissable multiple response</text>
<rect x="1534.97" y="1376.00" width="7.90" height="1.90" fill="#000"/>
<rect x="1534.97" y="1394.70" width="7.90" height="1.90" fill="#000"/>
<text transform="translate(1481.02 1449.60) scale(1.0382 1)" font-size="30" fill="#000">[-3] Implausible value</text>
<rect x="1535.05" y="1429.00" width="7.90" height="1.90" fill="#000"/>
<rect x="1535.05" y="1447.70" width="7.90" height="1.90" fill="#000"/>
<text transform="translate(2021.85 1396.60) scale(1.0248 1)" font-size="30" fill="#000">[-2] Does not apply</text>
<text transform="translate(2021.85 1449.60) scale(1.0260 1)" font-size="30" fill="#000">[- ] No answer</text>
<path d="M2048.50 1449.60 L2051.00 1449.60 L2051.00 1429.10 L2049.30 1429.10 L2043.60 1433.30 L2044.50 1435.20 L2048.50 1432.30 Z" fill="#000"/>
<text transform="translate(2350.20 1396.60) scale(0.9830 1)" font-size="30" fill="#000">valid cases</text>
<rect x="1431.00" y="1374.00" width="24.00" height="24.80" fill="#8F6B47"/>
</svg></body></html>
